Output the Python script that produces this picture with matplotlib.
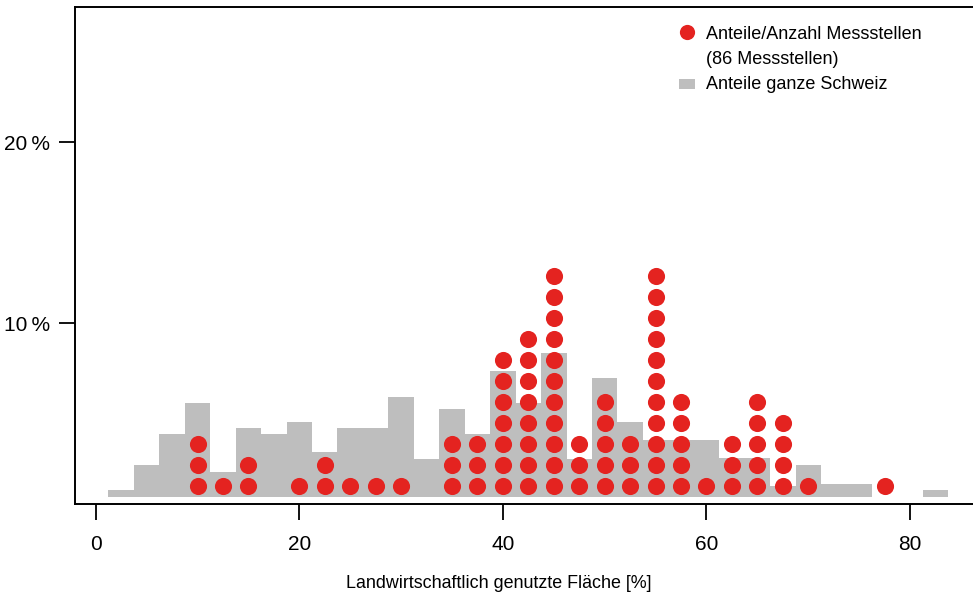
import numpy as np
import matplotlib.pyplot as plt
from matplotlib.patches import Rectangle

plt.rcParams["font.family"] = ["Liberation Sans", "DejaVu Sans"]

RED = "#E42320"
GREY = "#BEBEBE"

# share of the whole country per class of agricultural land use [%]
bin_centres = [2.5, 5, 7.5, 10, 12.5, 15, 17.5, 20, 22.5, 25, 27.5, 30, 32.5,
               35, 37.5, 40, 42.5, 45, 47.5, 50, 52.5, 55, 57.5, 60, 62.5,
               65, 67.5, 70, 72.5, 75, 77.5, 80, 82.5]
swiss_share = [0.37, 1.75, 3.46, 5.18, 1.36, 3.80, 3.46, 4.13, 2.47, 3.80,
               3.80, 5.51, 2.08, 4.85, 3.46, 6.96, 5.19, 7.92, 2.08, 6.56,
               4.13, 3.13, 3.13, 3.13, 2.12, 2.12, 0.60, 1.75, 0.69, 0.69,
               0.0, 0.0, 0.37]

# number of monitoring sites per class
site_classes = [10, 12.5, 15, 20, 22.5, 25, 27.5, 30, 35, 37.5, 40, 42.5, 45,
                47.5, 50, 52.5, 55, 57.5, 60, 62.5, 65, 67.5, 70, 77.5]
site_counts = [3, 1, 2, 1, 2, 1, 1, 1, 3, 3, 7, 8, 11,
               3, 5, 3, 11, 5, 1, 3, 5, 4, 1, 1]

n_sites = sum(site_counts)
dot_step = 100 / n_sites
base = 0.42

fig = plt.figure(figsize=(9.73, 5.94), dpi=100)
ax = fig.add_axes([0.0768, 0.151, 0.9232, 0.8378])

ax.bar(bin_centres, swiss_share, width=2.5, bottom=base, color=GREY,
       linewidth=0, zorder=1)

xs, ys = [], []
for x, n in zip(site_classes, site_counts):
    for k in range(n):
        xs.append(x)
        ys.append(base + (k + 0.5) * dot_step)
ax.scatter(xs, ys, s=152, color=RED, linewidths=0, zorder=3)

ax.set_xlim(-2.063, 86.18)
ax.set_ylim(0, 27.49)

ax.set_xticks([0, 20, 40, 60, 80])
ax.set_yticks([10, 20])
ax.set_yticklabels(["10\u2009%", "20\u2009%"])
ax.tick_params(axis="both", direction="out", length=11.5, width=1.3,
               labelsize=15, colors="black")
ax.tick_params(axis="x", pad=10.5)
ax.tick_params(axis="y", pad=6.5)

for side in ["left", "top", "bottom"]:
    ax.spines[side].set_linewidth(1.4)
ax.spines["right"].set_visible(False)

ax.set_xlabel("Landwirtschaftlich genutzte Fläche [%]", fontsize=12.9)
ax.xaxis.set_label_coords(0.4723, -0.142)

# legend
ax.scatter([0.6816], [0.9486], s=120, color=RED, linewidths=0,
           transform=ax.transAxes, clip_on=False, zorder=4)
ax.add_patch(Rectangle((0.6731, 0.834), 0.01748, 0.0207, color=GREY,
                       transform=ax.transAxes, linewidth=0))
ax.text(0.7028, 0.9346, "Anteile/Anzahl Messstellen", fontsize=13,
        va="baseline", transform=ax.transAxes)
ax.text(0.7028, 0.8839, f"({n_sites} Messstellen)", fontsize=13,
        va="baseline", transform=ax.transAxes)
ax.text(0.7028, 0.834, "Anteile ganze Schweiz", fontsize=13,
        va="baseline", transform=ax.transAxes)

fig.savefig("out.png", dpi=100)
